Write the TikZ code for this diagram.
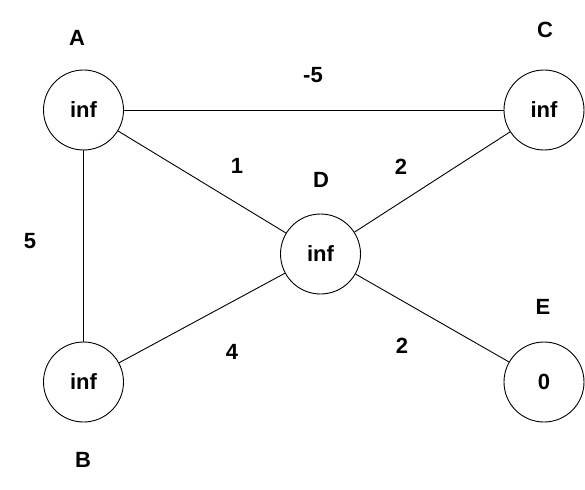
\documentclass[tikz,border=0pt]{standalone}
\usepackage{fontspec}
\setmainfont{Liberation Sans}
\begin{document}
\begin{tikzpicture}[x=1pt,y=-1pt,
  vertex/.style={draw, circle, minimum size=80pt, inner sep=0pt, line width=0.9pt, font=\bfseries\fontsize{22}{26}\selectfont},
  lbl/.style={font=\bfseries\fontsize{22}{26}\selectfont, inner sep=0pt},
  edge/.style={line width=0.9pt}]
\useasboundingbox (0,0) rectangle (585,489);
% vertices
\node[vertex] (A) at (83.5,110) {inf};
\node[vertex] (C) at (544,110) {inf};
\node[vertex] (D) at (320.5,254) {inf};
\node[vertex] (B) at (83.5,382) {inf};
\node[vertex] (E) at (544,382) {0};
% vertex names
\node[lbl] (nA) at (77,38) {A};
\node[lbl] (nC) at (545,30) {C};
\node[lbl] (nD) at (321,180) {D};
\node[lbl] (nE) at (543,307) {E};
\node[lbl] (nB) at (83,460) {B};
% edges
\draw[edge] (A) -- (C);
\draw[edge] (A) -- (D);
\draw[edge] (A) -- (B);
\draw[edge] (B) -- (D);
\draw[edge] (D) -- (C);
\draw[edge] (D) -- (E);
% weights
\node[lbl] (wAC) at (313,75) {-5};
\node[lbl] (wAD) at (237,166) {1};
\node[lbl] (wDC) at (401,167) {2};
\node[lbl] (wAB) at (30,241) {5};
\node[lbl] (wBD) at (232,352) {4};
\node[lbl] (wDE) at (402,346) {2};
\end{tikzpicture}
\end{document}
